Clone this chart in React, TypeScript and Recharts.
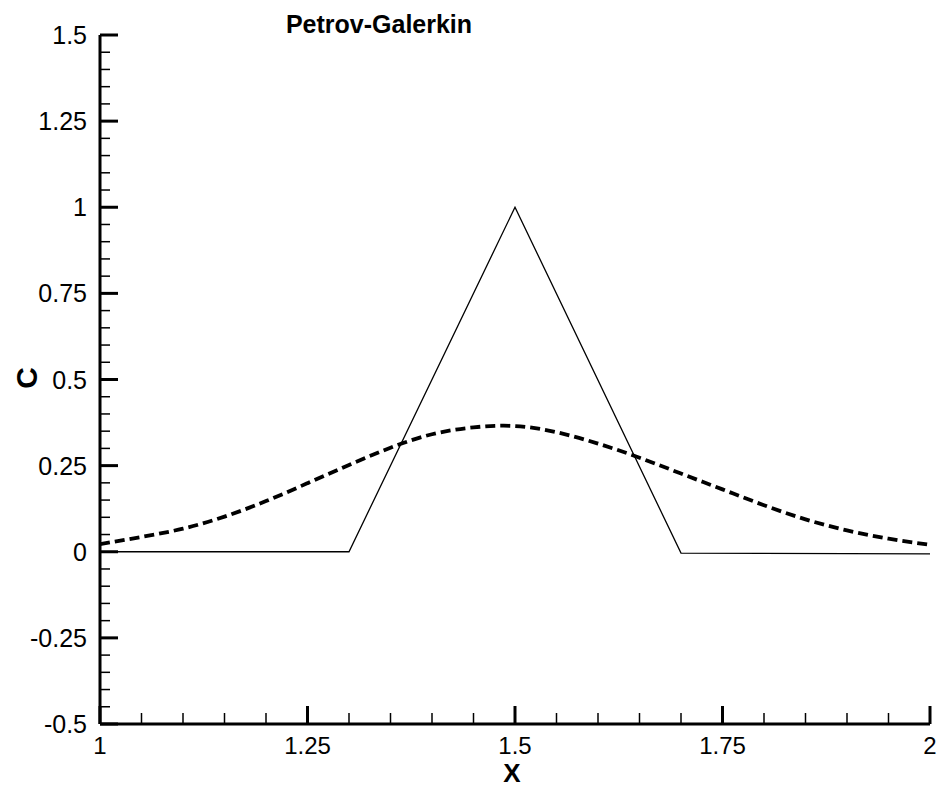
import { LineChart, Line, XAxis, YAxis } from "recharts"

// tick values (labelled ones); 4 unlabelled minor ticks sit between each pair
const xMajor = [1, 1.25, 1.5, 1.75, 2]
const yMajor = [-0.5, -0.25, 0, 0.25, 0.5, 0.75, 1, 1.25, 1.5]

// exact solution: triangular pulse
const exactX = [1, 1.3, 1.5, 1.7, 2]
const exactC = [0, 0, 1, -0.004, -0.006]

// Petrov-Galerkin solution (dashed)
const pgX = [1, 1.05, 1.1, 1.15, 1.2, 1.25, 1.3, 1.35, 1.4, 1.45, 1.5, 1.55, 1.6, 1.65, 1.7, 1.75, 1.8, 1.85, 1.9, 1.95, 2]
const pgC = [0.022, 0.043, 0.067, 0.102, 0.147, 0.199, 0.252, 0.302, 0.341, 0.361, 0.365, 0.347, 0.314, 0.273, 0.227, 0.181, 0.135, 0.094, 0.062, 0.038, 0.02]

const exactData = exactX.map((x, i) => ({ x, c: exactC[i] }))
const pgData = pgX.map((x, i) => ({ x, c: pgC[i] }))

function withMinors(major: number[]) {
  const out: number[] = []
  for (let i = 0; i < major.length; i++) {
    out.push(major[i])
    if (i < major.length - 1) {
      const step = (major[i + 1] - major[i]) / 5
      for (let k = 1; k < 5; k++) out.push(major[i] + step * k)
    }
  }
  return out
}

const isMajor = (list: number[], v: number) => list.some((m) => Math.abs(m - v) < 1e-9)

const font = "'Liberation Sans', Arial, Helvetica, sans-serif"

function YTick(props: any) {
  const { x, y, payload } = props
  const major = isMajor(yMajor, payload.value)
  return (
    <g>
      <line x1={x} x2={x + (major ? 18 : 10)} y1={y} y2={y} stroke="#000" strokeWidth={major ? 3 : 1.5} />
      {major && (
        <text x={x - 13} y={y + 9} textAnchor="end" fontSize={25} fontFamily={font} fill="#000">
          {String(payload.value)}
        </text>
      )}
    </g>
  )
}

function XTick(props: any) {
  const { x, y, payload } = props
  const major = isMajor(xMajor, payload.value)
  return (
    <g>
      <line x1={x} x2={x} y1={y} y2={y - (major ? 18 : 11)} stroke="#000" strokeWidth={major ? 3 : 1.5} />
      {major && (
        <text x={x} y={y + 30} textAnchor="middle" fontSize={24} fontFamily={font} fill="#000">
          {String(payload.value)}
        </text>
      )}
    </g>
  )
}

export default function App() {
  return (
    <div style={{ position: "absolute", left: 0, top: 0, width: 944, height: 787, background: "#fff" }}>
      <LineChart width={944} height={787} margin={{ top: 35, right: 14, bottom: 0, left: 0 }}>
        <XAxis
          dataKey="x"
          type="number"
          domain={[1, 2]}
          ticks={withMinors(xMajor)}
          interval={0}
          height={63}
          tickSize={0}
          tickMargin={0}
          tickLine={false}
          axisLine={{ stroke: "#000", strokeWidth: 3 }}
          tick={<XTick />}
          allowDataOverflow
        />
        <YAxis
          type="number"
          domain={[-0.5, 1.5]}
          ticks={withMinors(yMajor)}
          interval={0}
          width={100}
          tickSize={0}
          tickMargin={0}
          tickLine={false}
          axisLine={{ stroke: "#000", strokeWidth: 3 }}
          tick={<YTick />}
          allowDataOverflow
        />
        <Line
          data={exactData}
          dataKey="c"
          type="linear"
          stroke="#000"
          strokeWidth={1.3}
          dot={false}
          isAnimationActive={false}
        />
        <Line
          data={pgData}
          dataKey="c"
          type="natural"
          stroke="#000"
          strokeWidth={3.8}
          strokeDasharray="10 5"
          dot={false}
          isAnimationActive={false}
        />
      </LineChart>
      <svg width={944} height={787} style={{ position: "absolute", left: 0, top: 0, pointerEvents: "none" }}>
        <text x={379} y={33} textAnchor="middle" fontSize={25} fontWeight="bold" fontFamily={font} fill="#000">
          Petrov-Galerkin
        </text>
        <text
          x={0}
          y={0}
          transform="translate(37 378) rotate(-90)"
          textAnchor="middle"
          fontSize={30}
          fontWeight="bold"
          fontFamily={font}
          fill="#000"
        >
          C
        </text>
        <text x={512} y={782} textAnchor="middle" fontSize={26} fontWeight="bold" fontFamily={font} fill="#000">
          X
        </text>
      </svg>
    </div>
  )
}
